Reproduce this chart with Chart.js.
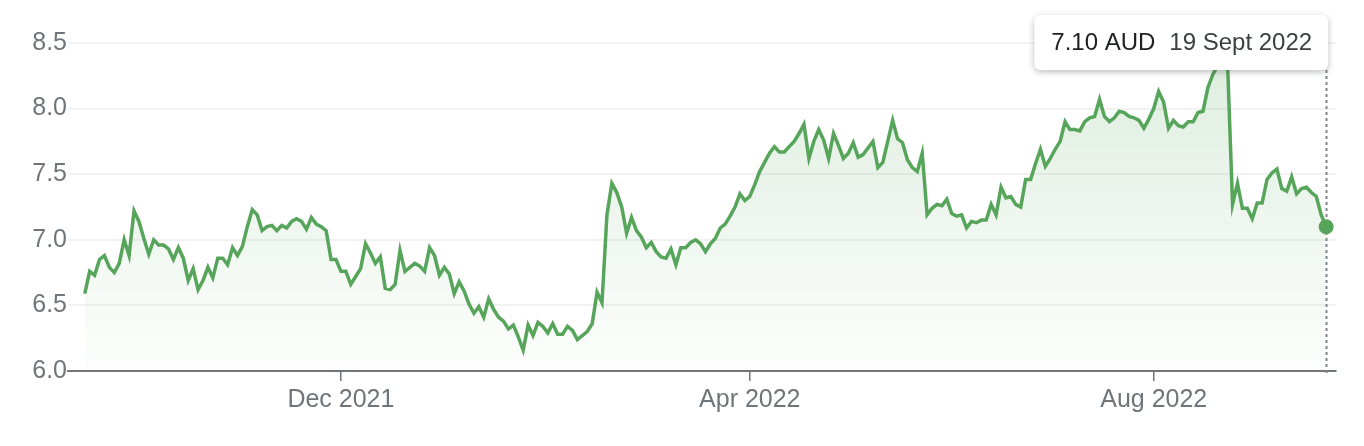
<!DOCTYPE html>
<html>
<head>
<meta charset="utf-8">
<script src="https://cdn.jsdelivr.net/npm/chart.js@4"></script>
<style>
html,body{margin:0;padding:0;background:#fff;}
#wrap{width:1364px;height:446px;position:relative;}
</style>
</head>
<body>
<div id="wrap"><canvas id="c" width="1364" height="446"></canvas></div>
<script>
// Daily closing prices (AUD), trading days from Sept 2021 to 19 Sept 2022
const prices = [
  6.59,6.76,6.73,6.85,6.88,6.79,6.75,6.82,7.00,6.88,
  7.22,7.14,7.01,6.89,7.00,6.96,6.96,6.93,6.85,6.94,
  6.86,6.69,6.78,6.62,6.69,6.79,6.71,6.86,6.86,6.81,
  6.94,6.88,6.95,7.10,7.23,7.19,7.07,7.10,7.11,7.07,
  7.11,7.09,7.14,7.16,7.14,7.08,7.17,7.12,7.10,7.07,
  6.85,6.85,6.76,6.76,6.66,6.72,6.78,6.97,6.90,6.82,
  6.87,6.63,6.62,6.66,6.92,6.76,6.79,6.82,6.80,6.76,
  6.94,6.88,6.73,6.79,6.74,6.59,6.68,6.61,6.51,6.44,
  6.49,6.41,6.55,6.47,6.41,6.38,6.32,6.35,6.26,6.16,
  6.35,6.27,6.37,6.34,6.29,6.36,6.28,6.28,6.34,6.31,
  6.24,6.27,6.30,6.36,6.60,6.52,7.19,7.43,7.36,7.25,
  7.05,7.17,7.07,7.02,6.94,6.98,6.91,6.87,6.86,6.93,
  6.81,6.94,6.94,6.98,7.00,6.97,6.91,6.97,7.01,7.09,
  7.12,7.18,7.25,7.35,7.30,7.33,7.42,7.52,7.59,7.66,
  7.71,7.67,7.67,7.71,7.75,7.81,7.88,7.62,7.75,7.84,
  7.76,7.62,7.81,7.72,7.62,7.66,7.74,7.63,7.65,7.70,
  7.75,7.55,7.59,7.75,7.91,7.77,7.74,7.61,7.55,7.52,
  7.66,7.19,7.24,7.27,7.26,7.31,7.20,7.18,7.19,7.09,
  7.14,7.13,7.15,7.15,7.27,7.19,7.40,7.32,7.33,7.27,
  7.25,7.46,7.46,7.58,7.69,7.56,7.62,7.69,7.75,7.90,
  7.84,7.84,7.83,7.90,7.93,7.94,8.07,7.94,7.90,7.93,
  7.98,7.97,7.94,7.93,7.91,7.85,7.92,8.00,8.13,8.05,
  7.85,7.91,7.87,7.86,7.90,7.90,7.97,7.98,8.16,8.26,
  8.33,8.36,8.33,7.27,7.43,7.24,7.24,7.16,7.28,7.28,
  7.46,7.51,7.54,7.39,7.37,7.48,7.35,7.39,7.40,7.36,
  7.33,7.19,7.10
];
// Month tick labels and the trading-day index where each month starts
const tickLabels = ['Dec 2021', 'Apr 2022', 'Aug 2022'];
const tickIndex = [52, 135, 217];
// Tooltip texts
const tooltipPrice = '7.10 AUD';
const tooltipDate = '19 Sept 2022';

const GREEN = '#56a55b';
const FONT = '"Liberation Sans", Arial, Helvetica, sans-serif';
const lastIdx = prices.length - 1;

const guidePlugin = {
  id: 'guide',
  beforeDatasetsDraw(chart) {
    const meta = chart.getDatasetMeta(0);
    const p = meta.data[lastIdx];
    const ctx = chart.ctx;
    ctx.save();
    ctx.setLineDash([3, 3]);
    ctx.strokeStyle = '#80868b';
    ctx.lineWidth = 2;
    ctx.beginPath();
    ctx.moveTo(Math.round(p.x) + 0.5, 70);
    ctx.lineTo(Math.round(p.x) + 0.5, chart.chartArea.bottom + 2);
    ctx.stroke();
    ctx.restore();
  },
  afterDatasetsDraw(chart) {
    const meta = chart.getDatasetMeta(0);
    const p = meta.data[lastIdx];
    const ctx = chart.ctx;
    ctx.save();
    ctx.font = '24px ' + FONT;
    const w1 = ctx.measureText(tooltipPrice).width;
    const w2 = ctx.measureText(tooltipDate).width;
    const padL = 17, padR = 16, gap = 14;
    const boxW = padL + w1 + gap + w2 + padR;
    const boxH = 55;
    const right = p.x + 2;
    const left = right - boxW;
    const top = 15;
    ctx.shadowColor = 'rgba(60,64,67,0.35)';
    ctx.shadowBlur = 6;
    ctx.shadowOffsetY = 2;
    ctx.fillStyle = '#ffffff';
    ctx.beginPath();
    ctx.roundRect(left, top, boxW, boxH, 6);
    ctx.fill();
    ctx.shadowColor = 'transparent';
    ctx.textBaseline = 'middle';
    ctx.textAlign = 'left';
    ctx.fillStyle = '#202124';
    ctx.fillText(tooltipPrice, left + padL, top + boxH / 2 + 1);
    ctx.fillStyle = '#3c4043';
    ctx.fillText(tooltipDate, left + padL + w1 + gap, top + boxH / 2 + 1);
    ctx.restore();
  }
};

const ctx = document.getElementById('c').getContext('2d');
new Chart(ctx, {
  type: 'line',
  data: {
    datasets: [{
      data: prices.map((v, i) => ({ x: i, y: v })),
      borderColor: GREEN,
      borderWidth: 3.5,
      tension: 0,
      fill: 'start',
      backgroundColor: (c) => {
        const area = c.chart.chartArea;
        if (!area) return 'rgba(86,165,91,0.1)';
        const g = c.chart.ctx.createLinearGradient(0, area.top, 0, area.bottom);
        g.addColorStop(0, 'rgba(86,165,91,0.20)');
        g.addColorStop(1, 'rgba(86,165,91,0.01)');
        return g;
      },
      pointRadius: (c) => c.dataIndex === lastIdx ? 7.5 : 0,
      pointBackgroundColor: GREEN,
      pointBorderWidth: 0,
      pointHoverRadius: 0
    }]
  },
  options: {
    responsive: false,
    devicePixelRatio: 1,
    animation: false,
    events: [],
    layout: { padding: { left: 0, right: 28, top: 43, bottom: 0 } },
    plugins: { legend: { display: false }, tooltip: { enabled: false } },
    scales: {
      x: {
        type: 'linear',
        min: -3.4,
        max: 254,
        afterBuildTicks: (s) => { s.ticks = tickIndex.map(v => ({ value: v })); },
        afterFit: (s) => { s.height = 75; },
        ticks: {
          autoSkip: false,
          maxRotation: 0,
          padding: 4,
          color: '#70757a',
          font: { family: FONT, size: 25 },
          callback: (v, i) => tickLabels[i]
        },
        grid: { display: true, drawOnChartArea: false, drawTicks: true, tickLength: 10, color: '#70757a', lineWidth: 1.5 },
        border: { display: true, color: '#70757a', width: 2 }
      },
      y: {
        min: 6,
        max: 8.5,
        afterFit: (s) => { s.width = 68; },
        ticks: {
          stepSize: 0.5,
          padding: 1,
          color: '#70757a',
          font: { family: FONT, size: 25 },
          callback: (v) => v.toFixed(1)
        },
        grid: { color: '#f2f2f2', lineWidth: 2, drawTicks: false },
        border: { display: false }
      }
    }
  },
  plugins: [guidePlugin]
});
</script>
</body>
</html>
